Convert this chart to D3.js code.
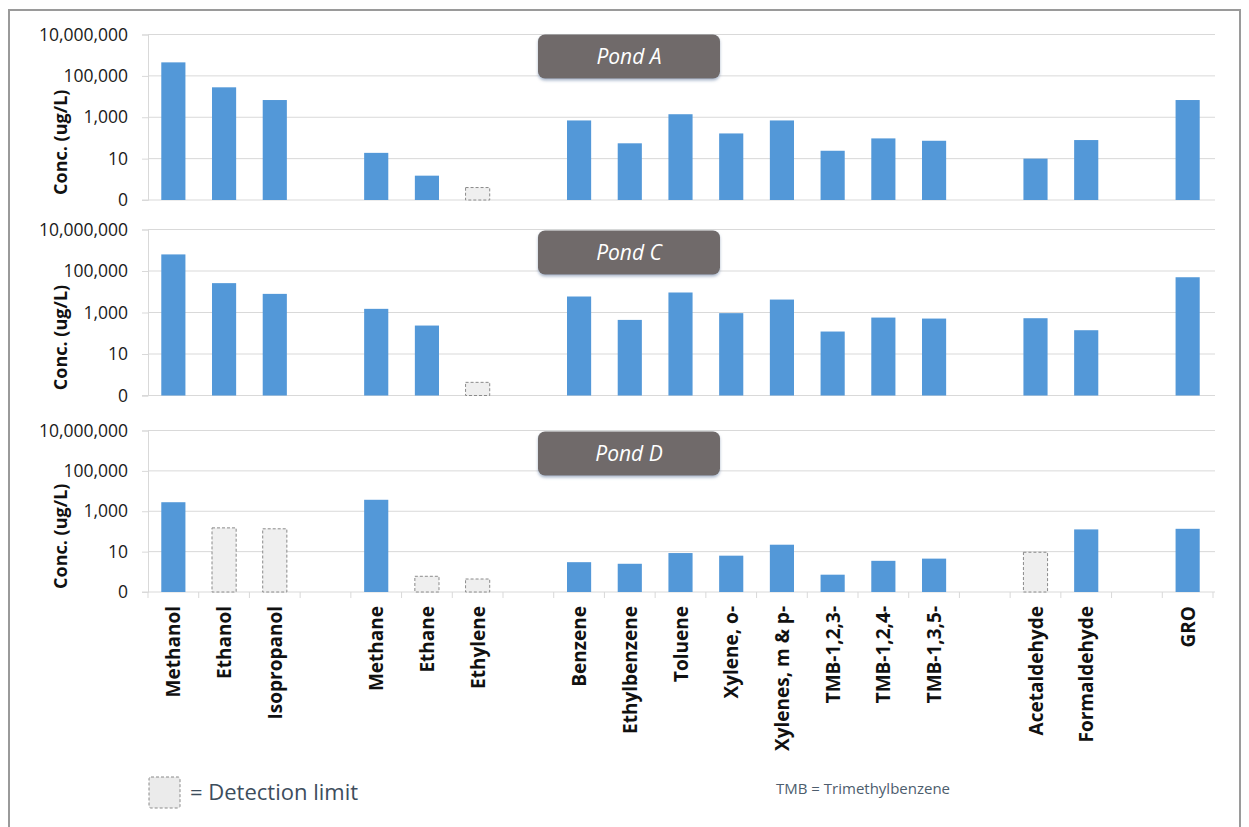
<!DOCTYPE html>
<html>
<head>
<meta charset="utf-8">
<script src="https://cdn.jsdelivr.net/npm/d3@7"></script>
<style>
  body { margin: 0; background: #fff; }
  text { font-family: "Open Sans", Lato, sans-serif; }
</style>
</head>
<body>
<script>
// "" = empty slot between compound groups
let categories = ['Methanol', 'Ethanol', 'Isopropanol', '', 'Methane', 'Ethane', 'Ethylene', '',
  'Benzene', 'Ethylbenzene', 'Toluene', 'Xylene, o-', 'Xylenes, m & p-', 'TMB-1,2,3-', 'TMB-1,2,4-', 'TMB-1,3,5-', '',
  'Acetaldehyde', 'Formaldehyde', '', 'GRO'];

let pondA = [450000, 28000, 6800, null, 19, 1.5, 0.4, null,
  700, 55, 1400, 165, 700, 24, 95, 73, null, 10, 79, null, 6800];
let pondC = [630000, 26000, 7900, null, 1500, 235, 0.43, null,
  5900, 440, 9200, 930, 4200, 121, 570, 510, null, 530, 140, null, 50000];
let pondD = [2800, 150, 135, null, 3700, 0.6, 0.44, null,
  3.0, 2.5, 8.5, 6.3, 22, 0.72, 3.5, 4.5, null, 9.3, 126, null, 135];

// values shown as detection limit (dashed grey bars)
let dlA = ['Ethylene'];
let dlC = ['Ethylene'];
let dlD = ['Ethanol', 'Isopropanol', 'Ethane', 'Ethylene', 'Acetaldehyde'];

let pondNames = ['Pond A', 'Pond C', 'Pond D'];
let yTicks = [0.1, 10, 1000, 100000, 10000000];

let panels = [
  {name: pondNames[0], values: pondA, dl: dlA, top: 34.5, height: 165.5},
  {name: pondNames[1], values: pondC, dl: dlC, top: 229.5, height: 166},
  {name: pondNames[2], values: pondD, dl: dlD, top: 430.5, height: 161.5},
];

let left = 148, right = 1213;
let svg = d3.select('body').append('svg')
  .attr('width', 1249)
  .attr('height', 827);

// outer frame
svg.append('rect')
  .attr('x', 9).attr('y', 10)
  .attr('width', 1231).attr('height', 830)
  .attr('fill', 'none')
  .attr('stroke', '#9a9a9a')
  .attr('stroke-width', 2);

let defs = svg.append('defs');
let f = defs.append('filter').attr('id', 'shadow')
  .attr('x', '-10%').attr('y', '-20%').attr('width', '120%').attr('height', '150%');
f.append('feDropShadow')
  .attr('dx', 0).attr('dy', 2).attr('stdDeviation', 1.5)
  .attr('flood-color', '#6f87a8').attr('flood-opacity', 0.6);

let x = d3.scaleBand()
  .domain(d3.range(categories.length))
  .range([left, right])
  .paddingInner(0.524)
  .paddingOuter(0.262);
let xb = d3.scaleBand().domain(d3.range(categories.length)).range([left, right]);

let fmt = d => d < 1 ? '0' : d3.format(',')(d);

panels.forEach(function (p, i) {
  let y = d3.scaleLog().domain([0.1, 1e7]).range([p.height, 0]);
  let g = svg.append('g').attr('transform', 'translate(0,' + p.top + ')');

  // gridlines
  g.selectAll('.grid')
    .data(yTicks.slice(1))
    .join('line')
    .attr('x1', left).attr('x2', right + 2)
    .attr('y1', d => y(d)).attr('y2', d => y(d))
    .attr('stroke', '#d9d9d9');

  let ax = g.append('g')
    .attr('transform', 'translate(' + left + ',0)')
    .call(d3.axisLeft(y).tickValues(yTicks).tickFormat(fmt).tickSize(6).tickPadding(14));
  ax.select('.domain').attr('stroke', '#d9d9d9');
  ax.selectAll('.tick line').attr('stroke', '#d9d9d9');
  ax.selectAll('.tick text')
    .attr('font-size', 17.5)
    .attr('fill', '#1a1a1a')
    .style('font-family', '"Open Sans", sans-serif');

  // bottom axis line
  g.append('line')
    .attr('x1', left - 6).attr('x2', right + 2)
    .attr('y1', p.height).attr('y2', p.height)
    .attr('stroke', '#d9d9d9');

  // y title
  g.append('text')
    .attr('transform', 'translate(67,' + (p.height / 2 + 25) + ') rotate(-90)')
    .attr('text-anchor', 'middle')
    .attr('font-size', 18)
    .attr('font-weight', 'bold')
    .attr('fill', '#111')
    .text('Conc. (ug/L)');

  let rows = p.values.map((v, j) => ({j: j, v: v, dl: p.dl.includes(categories[j])}))
    .filter(d => d.v !== null);

  g.selectAll('.bar')
    .data(rows)
    .join('rect')
    .attr('x', d => x(d.j))
    .attr('width', x.bandwidth())
    .attr('y', d => y(d.v))
    .attr('height', d => p.height - y(d.v))
    .attr('fill', d => d.dl ? '#efefef' : '#5398d8')
    .attr('stroke', d => d.dl ? '#8a8a8a' : 'none')
    .attr('stroke-dasharray', '3,2');

  // pond label
  let bx = 538, bw = 182, bh = 44;
  g.append('rect')
    .attr('x', bx).attr('y', i == 0 ? 0 : 1)
    .attr('width', bw).attr('height', bh)
    .attr('rx', 7)
    .attr('fill', '#6f6b6b')
    .attr('filter', 'url(#shadow)');
  g.append('text')
    .attr('x', bx + bw / 2).attr('y', (i == 0 ? 0 : 1) + bh / 2 + 7)
    .attr('text-anchor', 'middle')
    .attr('font-size', 21)
    .attr('font-style', 'italic')
    .attr('fill', '#fff')
    .text(p.name);

  if (i == panels.length - 1) {
    g.selectAll('.xtick')
      .data(d3.range(categories.length + 1))
      .join('line')
      .attr('x1', d => d == categories.length ? right : xb(d))
      .attr('x2', d => d == categories.length ? right : xb(d))
      .attr('y1', p.height).attr('y2', p.height + 6)
      .attr('stroke', '#d9d9d9');

    g.selectAll('.xlab')
      .data(categories.map((c, j) => ({c: c, j: j})).filter(d => d.c))
      .join('text')
      .attr('transform', d => 'translate(' + (x(d.j) + x.bandwidth() / 2 + 7) + ',' + (p.height + 14) + ') rotate(-90)')
      .attr('text-anchor', 'end')
      .attr('font-size', 19)
      .attr('font-weight', 'bold')
      .attr('fill', '#111')
      .text(d => d.c);
  }
});

// legend
svg.append('rect')
  .attr('x', 149).attr('y', 777)
  .attr('width', 31).attr('height', 31)
  .attr('rx', 2)
  .attr('fill', '#ebebeb')
  .attr('stroke', '#8a8a8a')
  .attr('stroke-dasharray', '3,2');
svg.append('text')
  .attr('x', 190).attr('y', 800)
  .attr('font-size', 22)
  .attr('fill', '#3d4d5c')
  .text('= Detection limit');
svg.append('text')
  .attr('x', 776).attr('y', 794)
  .attr('font-size', 15)
  .attr('fill', '#4d5d6d')
  .text('TMB = Trimethylbenzene');
</script>
</body>
</html>
